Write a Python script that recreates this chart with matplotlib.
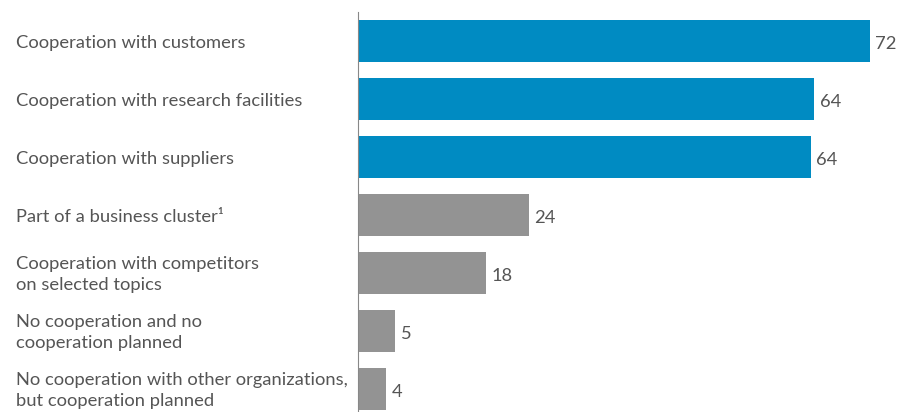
import matplotlib.pyplot as plt
from matplotlib import transforms

categories = [
    "Cooperation with customers",
    "Cooperation with research facilities",
    "Cooperation with suppliers",
    "Part of a business cluster\u00b9",
    "Cooperation with competitors\non selected topics",
    "No cooperation and no\ncooperation planned",
    "No cooperation with other organizations,\nbut cooperation planned",
]
values = [72, 64.2, 63.7, 24, 18, 5.2, 3.9]
value_labels = ["72", "64", "64", "24", "18", "5", "4"]
highlight = [True, True, True, False, False, False, False]

BLUE = "#008bc2"
GREY = "#939393"
TEXT = "#555555"

plt.rcParams['font.family'] = ['Lato', 'DejaVu Sans']

fig = plt.figure(figsize=(9, 4.12), dpi=100)
ax = fig.add_axes([358 / 900, 0, 542 / 900, 400 / 412])

pos = list(range(len(categories)))
colors = [BLUE if h else GREY for h in highlight]
ax.barh(pos, values, height=0.73, color=colors, left=0)

ax.set_xlim(0, 542 / 7.11)
ax.set_ylim(6.4, -0.5)

# value labels next to each bar (nudged down a touch like the original)
for p, v, lab in zip(pos, values, value_labels):
    ax.annotate(lab, (v, p), xytext=(4, -2), textcoords="offset points",
                va="center", ha="left", fontsize=13.2, color=TEXT)

# category labels on the left, left-aligned
trans = transforms.blended_transform_factory(fig.transFigure, ax.transData)
for p, cat in zip(pos, categories):
    ax.text(16 / 900, p + 0.03, cat, transform=trans, ha="left", va="center",
            fontsize=13.2, color=TEXT, linespacing=1.4)

for s in ["top", "right", "bottom"]:
    ax.spines[s].set_visible(False)
ax.spines["left"].set_color("#888888")
ax.spines["left"].set_linewidth(0.8)
ax.set_xticks([])
ax.set_yticks([])

fig.savefig("out.png", dpi=100)
